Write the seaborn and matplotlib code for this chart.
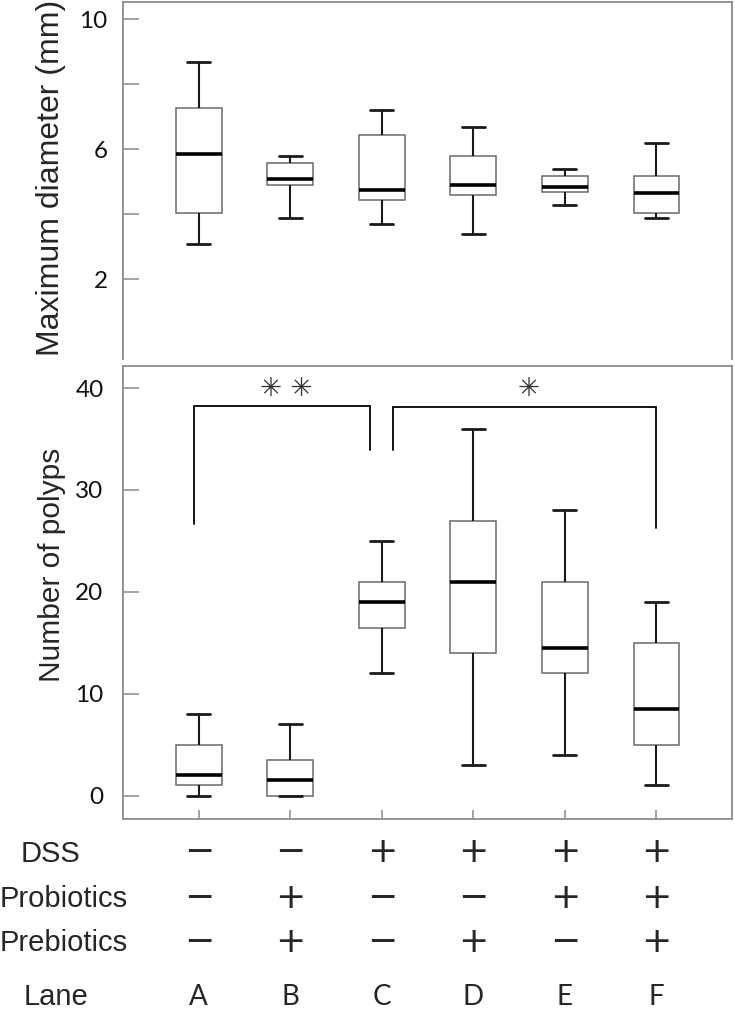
import numpy as np
import pandas as pd
import matplotlib
matplotlib.use("Agg")
import matplotlib.pyplot as plt
import matplotlib.transforms as mtransforms
import seaborn as sns

# ---------------- data ----------------
lanes = ["A", "B", "C", "D", "E", "F"]

# Maximum diameter (mm): five-number summaries
diam_min = [3.09, 3.88, 3.69, 3.38, 4.28, 3.88]
diam_q1 = [4.05, 4.89, 4.44, 4.58, 4.68, 4.05]
diam_med = [5.84, 5.09, 4.73, 4.90, 4.84, 4.64]
diam_q3 = [7.28, 5.58, 6.44, 5.79, 5.19, 5.19]
diam_max = [8.69, 5.79, 7.19, 6.69, 5.39, 6.19]

# Number of polyps
polyp_min = [0, 0, 12, 3, 4, 1]
polyp_q1 = [1, 0, 16.5, 14, 12, 5]
polyp_med = [2, 1.5, 19, 21, 14.5, 8.5]
polyp_q3 = [5, 3.5, 21, 27, 21, 15]
polyp_max = [8, 7, 25, 36, 28, 19]

dss = ["−", "−", "+", "+", "+", "+"]
probiotics = ["−", "+", "−", "−", "+", "+"]
prebiotics = ["−", "+", "−", "+", "−", "+"]
row_labels = ["DSS", "Probiotics", "Prebiotics", "Lane"]

diam_ticks = [2, 4, 6, 8, 10]
diam_ticklabels = ["2", "", "6", "", "10"]
polyp_ticks = [0, 10, 20, 30, 40]

# significance brackets: (left lane pos, left leg bottom, right lane pos, right leg bottom, top, label, label pos)
brackets = [
    (-0.05, 26.7, 1.87, 33.9, 38.2, "✳ ✳", 0.96),
    (2.12, 33.9, 5.0, 26.3, 38.1, "✳", 3.6),
]


def long_frame(mins, q1s, meds, q3s, maxs):
    rows = []
    for lane, a, b, c, d, e in zip(lanes, mins, q1s, meds, q3s, maxs):
        for v in (a, b, c, d, e):
            rows.append({"lane": lane, "value": v})
    return pd.DataFrame(rows)


df_diam = long_frame(diam_min, diam_q1, diam_med, diam_q3, diam_max)
df_polyp = long_frame(polyp_min, polyp_q1, polyp_med, polyp_q3, polyp_max)

# ---------------- style ----------------
sns.set_style("white")
plt.rcParams["font.family"] = ["Liberation Sans", "DejaVu Sans"]

W, H = 735, 1010
fig = plt.figure(figsize=(W / 100, H / 100), dpi=100)

spine_col = "#8a8a8a"
box_kw = dict(
    whis=(0, 100),
    width=0.5,
    color="white",
    linecolor="#111111",
    showfliers=False,
    boxprops=dict(edgecolor="#6a6a6a", linewidth=1.1),
    whiskerprops=dict(color="#1a1a1a", linewidth=1.5),
    capprops=dict(color="#1a1a1a", linewidth=2.0),
    medianprops=dict(color="#000000", linewidth=2.6),
)

ax1 = fig.add_axes([123 / W, 1 - 359 / H, (732 - 123) / W, (359 - 1.5) / H])
ax2 = fig.add_axes([123 / W, 1 - 819 / H, (732 - 123) / W, (819 - 365.7) / H])

sns.boxplot(data=df_diam, x="lane", y="value", order=lanes, ax=ax1, **box_kw)
sns.boxplot(data=df_polyp, x="lane", y="value", order=lanes, ax=ax2, **box_kw)

for ax in (ax1, ax2):
    ax.set_xlim(-0.828, 5.826)
    ax.set_xlabel("")
    ax.set_ylabel("")
    for s in ax.spines.values():
        s.set_color(spine_col)
        s.set_linewidth(1.3)

ax1.set_ylim(-0.45, 10.54)
ax1.spines["bottom"].set_visible(False)
ax1.set_xticks([])
ax1.set_yticks(diam_ticks)
ax1.set_yticklabels(diam_ticklabels)
ax1.tick_params(axis="y", direction="in", length=11.5, width=1.1, color=spine_col,
                pad=11, labelsize=17.5, left=True, labelcolor="#111111")

ax2.set_ylim(-2.29, 42.19)
ax2.set_yticks(polyp_ticks)
ax2.set_yticklabels([str(t) for t in polyp_ticks])
ax2.tick_params(axis="y", direction="in", length=11.5, width=1.1, color=spine_col,
                pad=14, labelsize=17.5, left=True, labelcolor="#111111")
ax2.set_xticks(range(len(lanes)))
ax2.set_xticklabels([])
ax2.tick_params(axis="x", direction="in", length=6.5, width=1.1, color=spine_col,
                bottom=True)

for ax in (ax1, ax2):
    for lbl in ax.get_yticklabels():
        lbl.set_fontfamily("Lato")

# brackets
for xl, yl, xr, yr, top, lab, lx in brackets:
    ax2.plot([xl, xl, xr, xr], [yl, top, top, yr], color="black", lw=1.3,
             solid_joinstyle="miter", clip_on=False)
    ax2.text(lx, 39.9, lab, ha="center", va="center", fontsize=19,
             family="DejaVu Sans", color="#333333")

# y-axis labels
fig.text(59.5 / W, 1 - 178 / H, "Maximum diameter (mm)", rotation=90,
         rotation_mode="anchor", ha="center", va="baseline", fontsize=23)
fig.text(59.5 / W, 1 - 565 / H, "Number of polyps", rotation=90,
         rotation_mode="anchor", ha="center", va="baseline", fontsize=21.5)

# table below
trans = mtransforms.blended_transform_factory(ax2.transData, fig.transFigure)
row_label_x = [50.5, 64, 64, 55.5]
row_label_base = [862, 907, 951, 1005]
for lab, x, yb in zip(row_labels, row_label_x, row_label_base):
    fig.text(x / W, 1 - yb / H, lab, ha="center", va="baseline", fontsize=21)

sym_rows = [dss, probiotics, prebiotics]
sym_centers = [849.3, 895, 939.3]
for row, yc in zip(sym_rows, sym_centers):
    for i, s in enumerate(row):
        ax2.text(i, 1 - (yc + 12.6) / H, s, transform=trans, ha="center",
                 va="baseline", fontsize=26, family="DejaVu Sans")

for i, lab in enumerate(lanes):
    ax2.text(i, 1 - 1005 / H, lab, transform=trans, ha="center", va="baseline",
             fontsize=20, family="Lato")

fig.savefig("out.png", dpi=100, facecolor="white")
